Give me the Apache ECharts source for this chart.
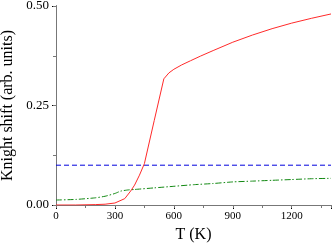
<!DOCTYPE html>
<html>
<head>
<meta charset="utf-8">
<script src="https://cdn.jsdelivr.net/npm/echarts@6/dist/echarts.min.js"></script>
<style>html,body{margin:0;padding:0;background:#fff}#c{width:332px;height:249px}</style>
</head>
<body>
<div id="c"></div>
<script>
var redT = [0, 100, 200, 250, 300, 350, 380, 400, 425, 450, 500, 549, 575, 600, 640, 685, 735, 800, 900, 1000, 1100, 1200, 1300, 1400];
var redV = [0, 0, 0.001, 0.002, 0.005, 0.016, 0.035, 0.05, 0.075, 0.104, 0.212, 0.317, 0.332, 0.341, 0.352, 0.3625, 0.374, 0.388, 0.409, 0.427, 0.443, 0.457, 0.469, 0.48];
var greenT = [0, 100, 200, 250, 300, 330, 370, 400, 500, 600, 700, 800, 900, 1000, 1100, 1200, 1300, 1400];
var greenV = [0.0125, 0.014, 0.018, 0.022, 0.029, 0.035, 0.038, 0.039, 0.043, 0.047, 0.051, 0.054, 0.058, 0.06, 0.062, 0.064, 0.066, 0.067];
var blueT = [0, 1400];
var blueV = [0.1, 0.1];
var xTicks = [0, 300, 600, 900, 1200];
var yTicks = ['0.00', '0.25', '0.50'];

function pairs(xs, ys) { return xs.map(function (x, i) { return [x, ys[i]]; }); }

var chart = echarts.init(document.getElementById('c'), null, { renderer: 'canvas' });
var font = 'serif';
chart.setOption({
  animation: false,
  textStyle: { fontFamily: font },
  grid: { left: 56, right: 1, top: 6, bottom: 44, containLabel: false, outerBoundsMode: 'none' },
  xAxis: [{
    type: 'value', min: 0, max: 1400, interval: 300, position: 'bottom',
    name: 'T (K)', nameLocation: 'middle', nameGap: 22,
    nameTextStyle: { fontFamily: font, fontSize: 16, color: '#000' },
    axisLine: { lineStyle: { color: '#000', width: 1 } },
    axisTick: { inside: false, length: 4, lineStyle: { color: '#000' } },
    minorTick: { show: true, splitNumber: 2, length: 2, lineStyle: { color: '#000' } },
    splitLine: { show: false },
    axisLabel: { fontFamily: font, fontSize: 11, color: '#000', margin: 6,
      formatter: function (v) { return xTicks.indexOf(v) >= 0 ? String(v) : ''; } }
  }, {
    type: 'value', min: 0, max: 1400, interval: 150, position: 'top',
    axisLine: { show: true, lineStyle: { color: '#777', width: 1 } },
    axisTick: { inside: true, length: 3, lineStyle: { color: '#777' } },
    axisLabel: { show: false }, splitLine: { show: false }
  }],
  yAxis: [{
    type: 'value', min: 0, max: 0.5, interval: 0.25, position: 'left',
    name: 'Knight shift (arb. units)', nameLocation: 'middle', nameGap: 36,
    nameTextStyle: { fontFamily: font, fontSize: 16, color: '#000' },
    axisLine: { show: true, lineStyle: { color: '#000', width: 1 } },
    axisTick: { show: true, inside: false, length: 4, lineStyle: { color: '#000' } },
    minorTick: { show: true, splitNumber: 2, length: 2, lineStyle: { color: '#000' } },
    splitLine: { show: false },
    axisLabel: { fontFamily: font, fontSize: 13, lineHeight: 12, color: '#000', margin: 7,
      formatter: function (v) { return v.toFixed(2); } }
  }, {
    type: 'value', min: 0, max: 0.5, interval: 0.125, position: 'right',
    axisLine: { show: true, lineStyle: { color: '#777', width: 1 } },
    axisTick: { show: true, inside: true, length: 3, lineStyle: { color: '#777' } },
    axisLabel: { show: false }, splitLine: { show: false }
  }],
  series: [{
    type: 'line', data: pairs(blueT, blueV), showSymbol: false, symbol: 'none',
    lineStyle: { color: '#0000dd', width: 1, type: [5, 3] }
  }, {
    type: 'line', data: pairs(greenT, greenV), showSymbol: false, symbol: 'none', smooth: 0.2,
    lineStyle: { color: '#118811', width: 1, type: [6, 2, 1.5, 2] }
  }, {
    type: 'line', data: pairs(redT, redV), showSymbol: false, symbol: 'none',
    lineStyle: { color: '#ff2a2a', width: 1 }
  }]
});
</script>
</body>
</html>
